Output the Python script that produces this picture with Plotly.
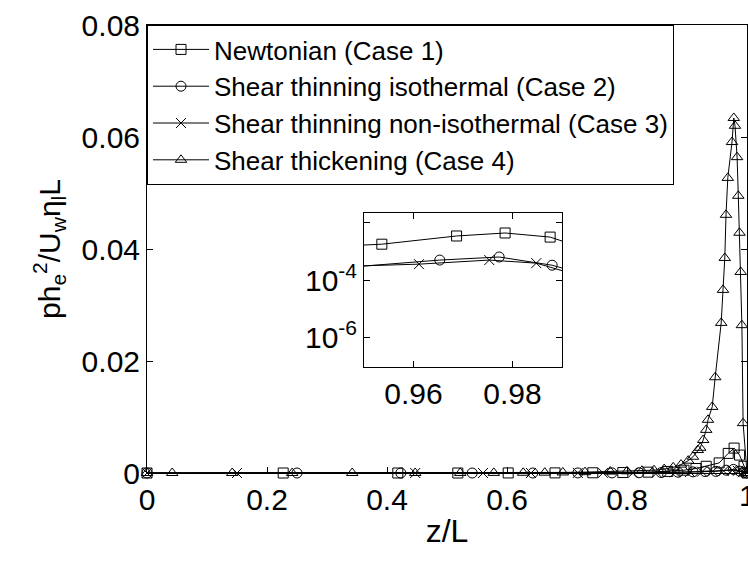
import plotly.graph_objects as go

# ---------------- data ----------------
names = ["Newtonian (Case 1)", "Shear thinning isothermal (Case 2)",
         "Shear thinning non-isothermal (Case 3)", "Shear thickening (Case 4)"]

z1 = [0, 0.227, 0.418, 0.518, 0.602, 0.68, 0.743, 0.793, 0.835, 0.868, 0.895, 0.915,
      0.932, 0.9536, 0.9687, 0.9785, 0.9876, 0.995, 1.0]
p1 = [0, 0, 0, 0, 0.00001, 0.00002, 0.00004, 0.00008, 0.00015, 0.00028, 0.0005, 0.0008,
      0.0012, 0.0018, 0.0035, 0.00445, 0.0032, 0.0012, 0]

z2 = [0, 0.25, 0.423, 0.542, 0.643, 0.718, 0.775, 0.82, 0.857, 0.885, 0.91, 0.93,
      0.948, 0.9653, 0.9773, 0.988, 0.995, 1.0]
p2 = [0, 0, 0, 0, 0, 0.00001, 0.00002, 0.00004, 0.00008, 0.00014, 0.0002, 0.00027,
      0.00029, 0.0005, 0.00064, 0.00033, 0.00015, 0]

z3 = [0, 0.15, 0.447, 0.56, 0.64, 0.718, 0.76, 0.81, 0.85, 0.88, 0.905, 0.925,
      0.943, 0.9611, 0.9753, 0.9848, 0.993, 1.0]
p3 = [0, 0, 0, 0, 0, 0.00001, 0.00002, 0.00004, 0.00007, 0.00012, 0.00018, 0.00024,
      0.00029, 0.00036, 0.0005, 0.00039, 0.00015, 0]

z4 = [0, 0.042, 0.142, 0.242, 0.342, 0.447, 0.522, 0.578, 0.627, 0.663, 0.693, 0.73,
      0.772, 0.80, 0.825, 0.845, 0.862, 0.877, 0.89, 0.902, 0.91, 0.918, 0.922, 0.927,
      0.932, 0.935, 0.942, 0.947, 0.957, 0.960, 0.963, 0.965, 0.968, 0.975, 0.978,
      0.980, 0.9835, 0.9855, 0.9875, 0.9895, 0.9915, 0.9935, 1.0]
p4 = [0, 0, 0, 0, 0, 0, 0.00001, 0.00002, 0.00004, 0.00006, 0.0001, 0.00015,
      0.00025, 0.0003, 0.0004, 0.0005, 0.0007, 0.001, 0.0015, 0.0022, 0.0029, 0.0041,
      0.0045, 0.0059, 0.0077, 0.0095, 0.0118, 0.0171, 0.0268, 0.0327, 0.0384, 0.0461,
      0.0527, 0.0591, 0.0634, 0.0620, 0.0564, 0.0495, 0.0429, 0.0359, 0.0264, 0.0089, 0]

xticks_main = [0, 0.2, 0.4, 0.6, 0.8, 1]
xticklabels_main = ["0", "0.2", "0.4", "0.6", "0.8", "1"]
yticks_main = [0, 0.02, 0.04, 0.06, 0.08]
yticklabels_main = ["0", "0.02", "0.04", "0.06", "0.08"]
xticks_inset = [0.96, 0.98]
xticklabels_inset = ["0.96", "0.98"]
yticks_inset = [1e-6, 1e-4, 1e-2]
yticklabels_inset = ["10<sup>-6</sup>", "10<sup>-4</sup>", " "]

symbols = ["square-open", "circle-open", "x-thin-open", "triangle-up-open"]
series = [(z1, p1), (z2, p2), (z3, p3), (z4, p4)]

FONT = "Liberation Sans, Arial, Helvetica, sans-serif"

fig = go.Figure()
for i, ((z, p), nm, sym) in enumerate(zip(series, names, symbols)):
    fig.add_trace(go.Scatter(
        x=z, y=p, mode="lines+markers", name=nm, legendgroup=f"g{i}",
        line=dict(color="black", width=1),
        marker=dict(symbol=sym, size=10, color="black",
                    line=dict(color="black", width=1)),
        cliponaxis=False, xaxis="x", yaxis="y"))

# inset (cases 1-3)
for i, ((z, p), nm, sym) in enumerate(zip(series[:3], names[:3], symbols[:3])):
    fig.add_trace(go.Scatter(
        x=z, y=p, mode="lines+markers", name=nm, showlegend=False,
        line=dict(color="black", width=1),
        marker=dict(symbol=sym, size=10, color="black",
                    line=dict(color="black", width=1)),
        xaxis="x2", yaxis="y2"))

axis_common = dict(showgrid=False, zeroline=False, showline=True, linecolor="black",
                   linewidth=1, mirror="ticks", ticks="inside", tickcolor="black",
                   ticklen=6, tickfont=dict(family=FONT, size=30, color="black"))

fig.update_layout(
    width=748, height=568,
    margin=dict(l=147, r=1, t=25, b=95),
    paper_bgcolor="white", plot_bgcolor="white",
    font=dict(family=FONT, color="black"),
    xaxis=dict(range=[0, 1], tickvals=xticks_main, ticktext=xticklabels_main,
               title=dict(text="z/L", font=dict(size=32), standoff=4),
               domain=[0, 1], **axis_common),
    yaxis=dict(range=[0, 0.08], tickvals=yticks_main, ticktext=yticklabels_main,
               title=dict(text="ph<sub>e</sub><sup>2</sup>/U<sub>w</sub>η<sub>l</sub>L",
                          font=dict(size=30), standoff=12),
               domain=[0, 1], **axis_common),
    xaxis2=dict(range=[0.95, 0.99], tickvals=xticks_inset, ticktext=xticklabels_inset,
                domain=[0.3617, 0.6917], anchor="y2", **axis_common),
    yaxis2=dict(type="log", range=[-7.05, -1.65], tickvals=yticks_inset,
                ticktext=yticklabels_inset, domain=[0.2366, 0.5804], anchor="x2",
                **axis_common),
    legend=dict(x=0, y=1, xanchor="left", yanchor="top", bgcolor="white",
                bordercolor="black", borderwidth=1, tracegroupgap=0,
                itemwidth=56, font=dict(family=FONT, size=26, color="black")),
    showlegend=True,
)

# tick label "1" sits on the window edge in the reference and is partly cut off
fig.add_annotation(text=xticklabels_main[-1], x=xticks_main[-1], xref="x",
                   y=0, yref="paper", yanchor="top", xanchor="center", yshift=-4,
                   showarrow=False, font=dict(family=FONT, size=30, color="black"))

fig.write_html("out.html")
